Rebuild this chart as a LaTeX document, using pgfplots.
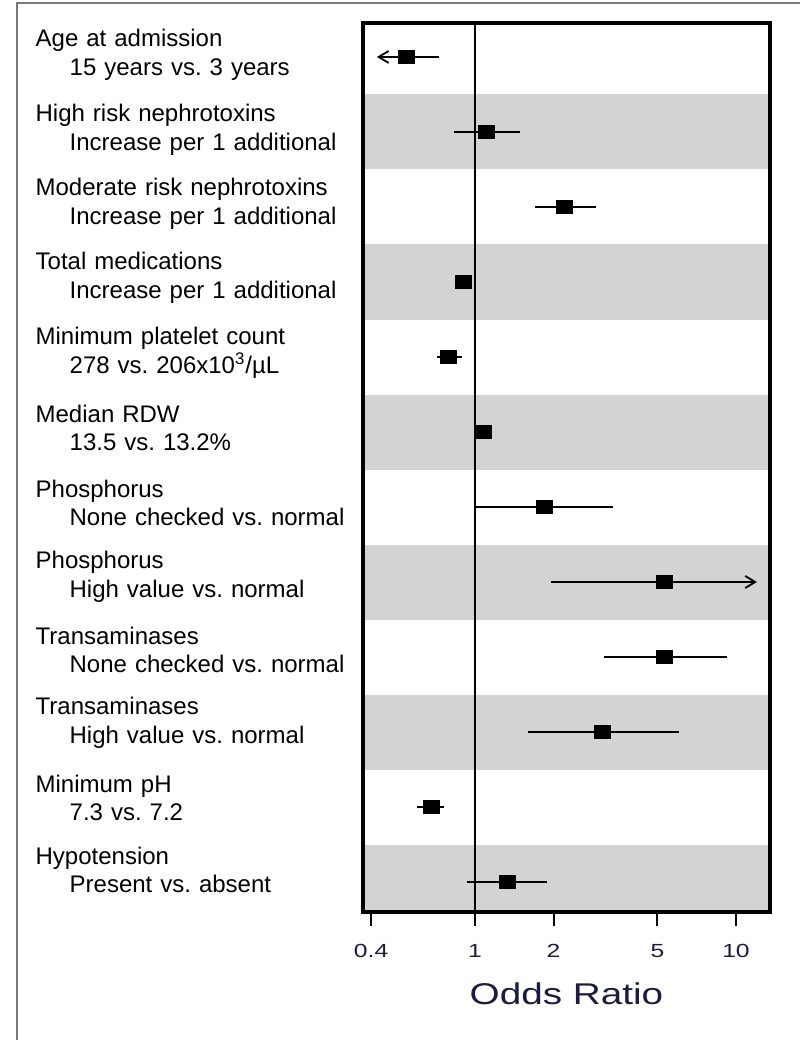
\documentclass[border=0pt]{standalone}
\usepackage{fontspec}
\setmainfont{Liberation Sans}
\usepackage{graphicx}
\usepackage{pgfplots}
\usepackage{pgfplotstable}
\pgfplotsset{compat=1.18}
\usetikzlibrary{arrows.meta}
\definecolor{band}{HTML}{D3D3D3}
\definecolor{framec}{HTML}{7A7A7A}
\definecolor{navy}{HTML}{1C1C40}
\frenchspacing

% row, odds ratio, lower CI, upper CI
\pgfplotstableread{
row or lo hi
1 0.549 0.421 0.728
2 1.11 0.831 1.487
3 2.21 1.70 2.91
4 0.90 0.87 0.93
5 0.795 0.715 0.892
6 1.08 1.04 1.13
7 1.85 1.01 3.38
8 5.30 1.95 12.03
9 5.34 3.12 9.23
10 3.07 1.60 6.05
11 0.684 0.60 0.76
12 1.33 0.93 1.89
}\ortable

\begin{document}
\begin{tikzpicture}
\useasboundingbox (0,0) rectangle (400bp,-520bp);
\draw[framec, line width=1bp] (8.5bp,-520bp) -- (8.5bp,-1.5bp) -- (400bp,-1.5bp);
\begin{axis}[
  at={(181.5bp,-11.5bp)}, anchor=north west,
  scale only axis, width=203.5bp, height=444.5bp,
  xmode=log, xmin=0.3724, xmax=13.5,
  ymin=0.547, ymax=12.4, y dir=reverse,
  axis line style={line width=1.6bp},
  axis on top,
  xminorticks=false, yminorticks=false,
  xtick={0.4,1,2,5,10},
  xticklabels={\scalebox{1.3}[1]{0.4},\scalebox{1.3}[1]{1},\scalebox{1.3}[1]{2},\scalebox{1.3}[1]{5},\scalebox{1.3}[1]{10}},
  xtick pos=bottom, tick align=outside,
  major tick length=7bp,
  xtick style={line width=1bp, black},
  xticklabel style={font=\fontsize{9.5bp}{10bp}\selectfont, text=navy, anchor=base, yshift=-15.5bp},
  ytick={0.973,1.973,2.96,3.947,4.947,5.947,6.947,7.933,8.907,9.88,10.88,11.84},
  yticklabels={
    {Age at admission\\\hspace*{17bp}15 years vs. 3 years},
    {High risk nephrotoxins\\\hspace*{17bp}Increase per 1 additional},
    {Moderate risk nephrotoxins\\\hspace*{17bp}Increase per 1 additional},
    {Total medications\\\hspace*{17bp}Increase per 1 additional},
    {Minimum platelet count\\\hspace*{17bp}278 vs. 206x10\textsuperscript{3}/µL},
    {Median RDW\\\hspace*{17bp}13.5 vs. 13.2\%},
    {Phosphorus\\\hspace*{17bp}None checked vs. normal},
    {Phosphorus\\\hspace*{17bp}High value vs. normal},
    {Transaminases\\\hspace*{17bp}None checked vs. normal},
    {Transaminases\\\hspace*{17bp}High value vs. normal},
    {Minimum pH\\\hspace*{17bp}7.3 vs. 7.2},
    {Hypotension\\\hspace*{17bp}Present vs. absent}},
  ytick style={draw=none},
  yticklabel style={font=\fontsize{12bp}{14.3bp}\selectfont, align=left, text width=156.5bp, inner sep=0pt, anchor=east},
  xlabel={\scalebox{1.29}[1]{Odds Ratio}},
  xlabel style={font=\fontsize{15bp}{18bp}\selectfont, text=navy, at={(axis description cs:0.5,0)}, anchor=base, yshift=-46bp},
]
\fill[band] (axis cs:0.3,1.5) rectangle (axis cs:20,2.5);
\fill[band] (axis cs:0.3,3.5) rectangle (axis cs:20,4.5);
\fill[band] (axis cs:0.3,5.5) rectangle (axis cs:20,6.5);
\fill[band] (axis cs:0.3,7.5) rectangle (axis cs:20,8.5);
\fill[band] (axis cs:0.3,9.5) rectangle (axis cs:20,10.5);
\fill[band] (axis cs:0.3,11.5) rectangle (axis cs:20,12.5);
\addplot[black, line width=0.9bp, no marks] coordinates {(1,0.3) (1,12.6)};
\addplot[black, line width=0.9bp, no marks, arrows={Straight Barb[length=5bp,width=6bp]-}] coordinates {(0.421,1) (0.728,1)};
\addplot[black, line width=0.9bp, no marks] coordinates {(0.831,2) (1.487,2)};
\addplot[black, line width=0.9bp, no marks] coordinates {(1.70,3) (2.91,3)};
\addplot[black, line width=0.9bp, no marks] coordinates {(0.87,4) (0.93,4)};
\addplot[black, line width=0.9bp, no marks] coordinates {(0.715,5) (0.892,5)};
\addplot[black, line width=0.9bp, no marks] coordinates {(1.04,6) (1.13,6)};
\addplot[black, line width=0.9bp, no marks] coordinates {(1.01,7) (3.38,7)};
\addplot[black, line width=0.9bp, no marks, arrows={-Straight Barb[length=5bp,width=6bp]}] coordinates {(1.95,8) (12.03,8)};
\addplot[black, line width=0.9bp, no marks] coordinates {(3.12,9) (9.23,9)};
\addplot[black, line width=0.9bp, no marks] coordinates {(1.60,10) (6.05,10)};
\addplot[black, line width=0.9bp, no marks] coordinates {(0.60,11) (0.76,11)};
\addplot[black, line width=0.9bp, no marks] coordinates {(0.93,12) (1.89,12)};
\addplot[only marks, mark=square*, mark size=3.125bp, mark options={xscale=1.28, fill=black, draw=black, line width=0pt}] table[x=or, y=row] {\ortable};
\end{axis}
\end{tikzpicture}
\end{document}
